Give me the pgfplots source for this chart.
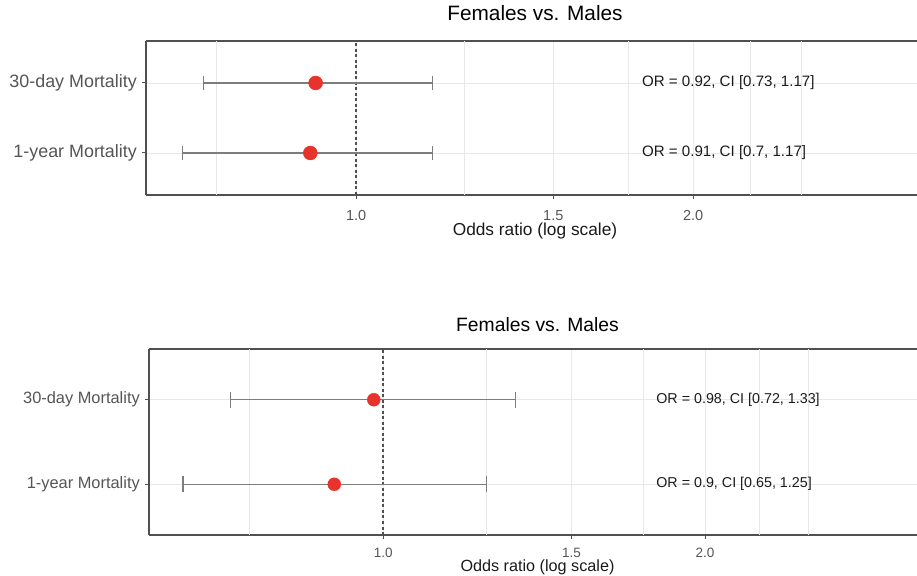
\documentclass[border=0pt]{standalone}
\usepackage{pgfplots}
\pgfplotsset{compat=1.18}
\usepackage{fontspec}
\setmainfont{Liberation Sans}
\definecolor{dotred}{RGB}{232,50,44}
\definecolor{framegray}{RGB}{80,80,80}
\definecolor{ebgray}{RGB}{125,125,125}
\definecolor{gridgray}{RGB}{232,232,232}
\definecolor{ticktext}{RGB}{85,85,85}
\definecolor{txt}{RGB}{26,26,26}
\pgfplotsset{
  forest/.style={
    scale only axis,
    axis y line*=left,
    ymin=0.4, ymax=2.6,
    ytick={1,2}, yticklabels={1-year Mortality,30-day Mortality},
    xtick={1,1.5,2}, xticklabels={1.0,1.5,2.0},
    extra x ticks={0.75,1.25,1.75,2.25,2.5}, extra x tick labels={},
    extra x tick style={major tick length=0pt, grid=major},
    grid=major, major grid style={gridgray, line width=0.8pt},
    tick align=outside, major tick length=4pt,
    xtick pos=bottom,
    tick style={framegray, line width=1pt},
    axis line style={framegray, line width=1.4pt},
    /pgf/number format/assume math mode=true,
    xlabel={Odds ratio (log scale)},
    title={Females vs. Males},
    title style={at={(axis description cs:0.5,1)}, anchor=base, inner sep=0pt, text=black},
    xlabel style={at={(axis description cs:0.5,0)}, anchor=base, inner sep=0pt, text=txt},
    xticklabel style={anchor=base, inner sep=0pt, text=ticktext},
    yticklabel style={text=ticktext, inner sep=5pt},
  }
}
\begin{document}
\begin{tikzpicture}[x=1pt,y=1pt]
% ---------- top panel ----------
\begin{axis}[xmode=log, log basis x=2, forest,
  at={(146pt,380pt)}, anchor=south west,
  width=778pt, height=154pt,
  xmin=0.649, xmax=3.216,
  title style={yshift=14pt, font=\fontsize{20.8}{24}\selectfont},
  xlabel style={yshift=-41pt, font=\fontsize{17.3}{20}\selectfont},
  xticklabel style={yshift=-22pt, font=\fontsize{14.5}{17}\selectfont},
  yticklabel style={font=\fontsize{17.9}{21}\selectfont},
]
\addplot[framegray, line width=1.5pt, dash pattern=on 3pt off 2.5pt] coordinates {(1,0.4) (1,2.6)};
\addplot[ebgray, line width=1.2pt, mark=|, mark size=7pt, mark options={solid}] coordinates {(0.73,2) (1.17,2)};
\addplot[ebgray, line width=1.2pt, mark=|, mark size=7pt, mark options={solid}] coordinates {(0.70,1) (1.17,1)};
\addplot[only marks, mark=*, mark size=7pt, dotred, mark options={draw=dotred, fill=dotred}] coordinates {(0.92,2) (0.91,1)};
\node[anchor=west, inner sep=0pt, text=txt, font=\fontsize{15.1}{18}\selectfont] at (axis cs:1.8,2) {OR = 0.92, CI [0.73, 1.17]};
\node[anchor=west, inner sep=0pt, text=txt, font=\fontsize{15.1}{18}\selectfont] at (axis cs:1.8,1) {OR = 0.91, CI [0.7, 1.17]};
\end{axis}
% ---------- bottom panel ----------
\begin{axis}[xmode=log, log basis x=2, forest,
  at={(149pt,40pt)}, anchor=south west,
  width=777pt, height=186pt,
  xmin=0.604, xmax=3.218,
  title style={yshift=11pt, font=\fontsize{19.3}{23}\selectfont},
  xlabel style={yshift=-36.5pt, font=\fontsize{16.2}{19}\selectfont},
  xticklabel style={yshift=-18pt, font=\fontsize{13.5}{16}\selectfont},
  yticklabel style={font=\fontsize{16.4}{19}\selectfont},
]
\addplot[framegray, line width=1.5pt, dash pattern=on 3pt off 2.5pt] coordinates {(1,0.4) (1,2.6)};
\addplot[ebgray, line width=1.2pt, mark=|, mark size=8pt, mark options={solid}] coordinates {(0.72,2) (1.33,2)};
\addplot[ebgray, line width=1.2pt, mark=|, mark size=8pt, mark options={solid}] coordinates {(0.65,1) (1.25,1)};
\addplot[only marks, mark=*, mark size=6.5pt, dotred, mark options={draw=dotred, fill=dotred}] coordinates {(0.98,2) (0.90,1)};
\node[anchor=west, inner sep=0pt, text=txt, font=\fontsize{14.3}{17}\selectfont] at (axis cs:1.8,2) {OR = 0.98, CI [0.72, 1.33]};
\node[anchor=west, inner sep=0pt, text=txt, font=\fontsize{14.3}{17}\selectfont] at (axis cs:1.8,1) {OR = 0.9, CI [0.65, 1.25]};
\end{axis}
\pgfresetboundingbox
\useasboundingbox (0,0) rectangle (917,575);
\end{tikzpicture}
\end{document}
